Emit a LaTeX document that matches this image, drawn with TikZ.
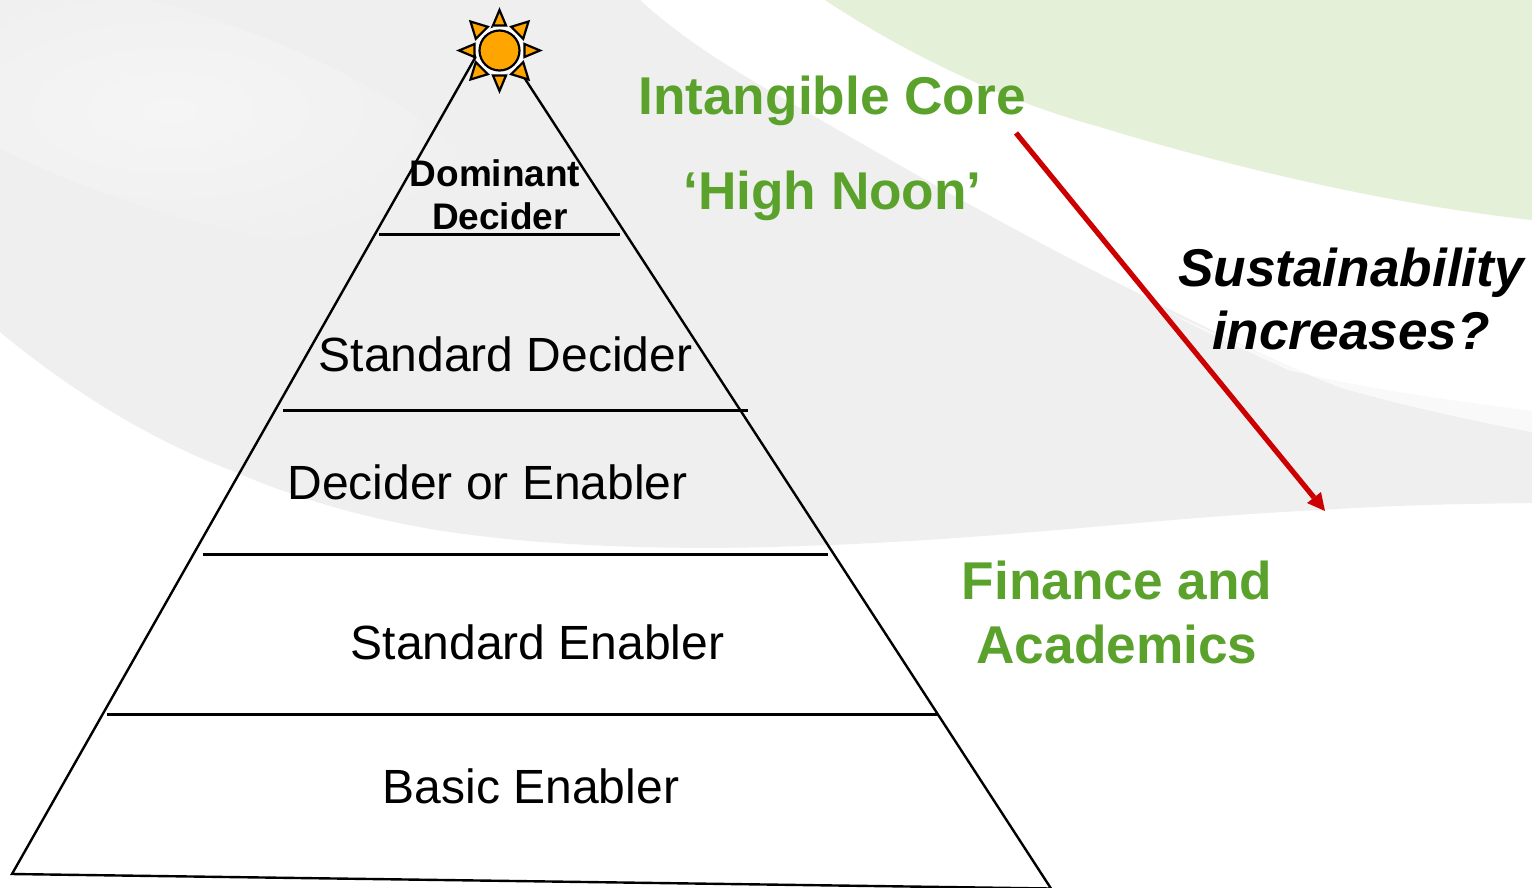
\documentclass[tikz,border=0pt]{standalone}
\usepackage{fontspec}
\setmainfont{Liberation Sans}
\definecolor{grn}{RGB}{90,162,44}
\definecolor{pale}{RGB}{229,240,216}
\definecolor{grayb}{RGB}{239,239,239}
\definecolor{grayhi}{RGB}{245,245,245}
\definecolor{grayc}{RGB}{249,249,249}
\definecolor{redar}{RGB}{204,0,0}
\definecolor{sun}{RGB}{255,165,0}
\tikzset{
 lbl/.style={font=\fontsize{48}{54}\selectfont,text=black,inner sep=0pt},
 lblsmall/.style={font=\fontsize{37}{43}\selectfont\bfseries,text=black,inner sep=0pt,align=center},
 grnl/.style={font=\fontsize{53.2}{64}\selectfont\bfseries,text=grn,inner sep=0pt,align=center},
 tier/.style={line width=3pt,draw=black},
 tri/.style={line width=2.4pt,draw=black,line join=miter},
 ray/.style={fill=sun,draw=black,line width=2.2pt,line join=miter}
}
\begin{document}
\begin{tikzpicture}[x=1pt,y=-1pt]
\useasboundingbox (0,0) rectangle (1532,887);
\fill[white] (0,0) rectangle (1532,887);
% gray swoosh
\fill[grayb] (0,0) -- (640,0) .. controls (700,55) and (770,90) .. (833,127) .. controls (930,183) and (1040,245) .. (1136,292) .. controls (1200,325) and (1270,360) .. (1339,387) .. controls (1400,405) and (1470,420) .. (1532,432) -- (1532,503) .. controls (1450,504) and (1400,505) .. (1320,510) .. controls (1150,518) and (1000,540) .. (800,546) .. controls (700,550) and (580,548) .. (480,536) .. controls (400,527) and (310,505) .. (233,471) .. controls (150,440) and (70,390) .. (0,332) -- cycle;
\fill[grayc] (1170,313) .. controls (1210,335) and (1250,352) .. (1288,370) .. controls (1370,390) and (1450,400) .. (1532,411) -- (1532,432) .. controls (1470,420) and (1400,405) .. (1339,387) .. controls (1270,360) and (1220,335) .. (1170,313) -- cycle;
% soft highlight, top left
\begin{scope}[shift={(170,110)},rotate=-18]
 \shade[inner color=grayhi,outer color=grayb] (0,0) ellipse (330 and 100);
\end{scope}
% green swoosh
\fill[pale] (825,0) .. controls (900,50) and (1000,100) .. (1100,127) .. controls (1175,150) and (1350,200) .. (1532,220) -- (1532,0) -- cycle;
% pyramid
\coordinate (apex) at (492,28);
\coordinate (bl) at (12,874);
\coordinate (br) at (1051,888.5);
\draw[tri] (apex) -- (bl) -- (br) -- cycle;
\coordinate (a1) at (379,234); \coordinate (a2) at (620,234);
\coordinate (b1) at (283,410); \coordinate (b2) at (748,410);
\coordinate (c1) at (203,554); \coordinate (c2) at (828,554);
\coordinate (d1) at (107,714); \coordinate (d2) at (938,714);
\draw[tier] (a1) -- (a2);
\draw[tier] (b1) -- (b2);
\draw[tier] (c1) -- (c2);
\draw[tier] (d1) -- (d2);
% sun
\node[circle,fill=white,minimum size=48pt,inner sep=0pt] (halo) at (499.5,50.5) {};
\foreach \a in {0,90,180,270}{
 \begin{scope}[shift={(499.5,50.5)},rotate=\a]
 \draw[ray] (40.5,0) -- (25,-6.5) -- (25,6.5) -- cycle;
 \end{scope}
}
\foreach \a in {45,135,225,315}{
 \begin{scope}[shift={(499.5,50.5)},rotate=\a]
 \draw[ray] (41,0) -- (25,-8.5) -- (25,8.5) -- cycle;
 \end{scope}
}
\node[circle,draw=black,fill=sun,line width=2.2pt,minimum size=40pt,inner sep=0pt] (sunc) at (499.5,50.5) {};
% labels
\node[lblsmall] (dd) at (500,194.5) {Dominant\hspace*{10pt}\\Decider};
\node[lbl] (sd) at (505.5,354) {Standard Decider};
\node[lbl] (de) at (487.5,482) {Decider or Enabler};
\node[lbl] (se) at (537.5,642) {Standard Enabler};
\node[lbl] (be) at (531,786) {Basic Enabler};
\node[grnl] (ic) at (832,101) {Intangible Core};
\node[grnl] (hn) at (832.5,196) {‘High Noon’};
\node[grnl] (fa) at (1117,612.5) {Finance and\\Academics};
\node[font=\fontsize{53.2}{63}\selectfont\bfseries\itshape,inner sep=0pt,align=center] (si) at (1351,299) {Sustainability\\increases?};
% arrow
\coordinate (s) at (1016,133);
\coordinate (e) at (1325,511);
\coordinate (m) at (1314,497.5);
\draw[redar,line width=5.2pt] (s) -- (m);
\fill[redar] (e) -- (1307,503) -- (1321,492) -- cycle;
\end{tikzpicture}
\end{document}
